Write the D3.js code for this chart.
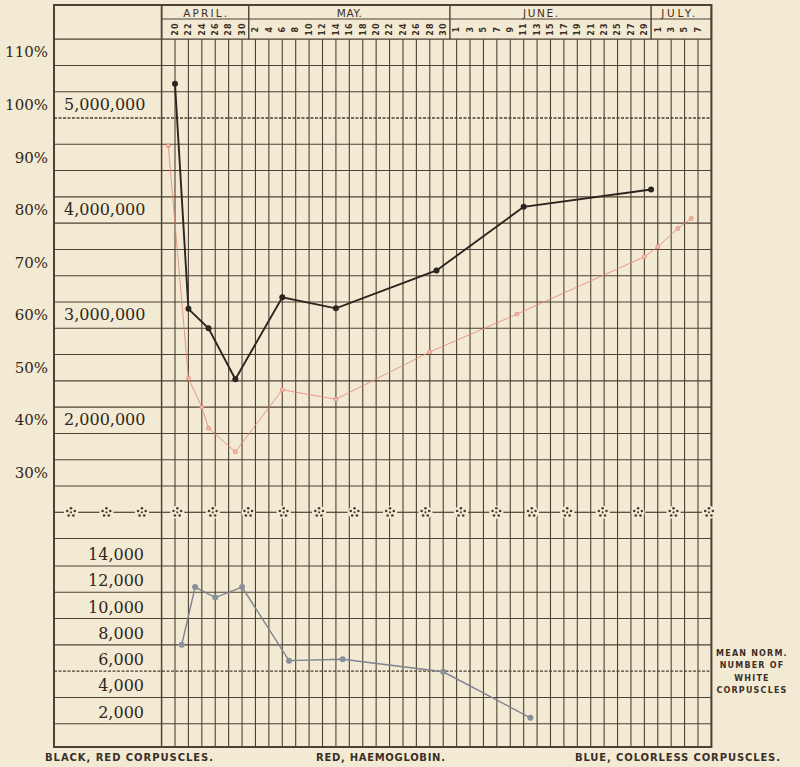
<!DOCTYPE html>
<html>
<head>
<meta charset="utf-8">
<script src="https://cdn.jsdelivr.net/npm/d3@7"></script>
<style>
  body { margin: 0; background: #f3ead3; }
  svg { display: block; }
</style>
</head>
<body>
<svg></svg>
<script>
const year = 1893;

// header
const months = ["APRIL.", "MAY.", "JUNE.", "JULY."];
const monthNums = [3, 4, 5, 6];
const monthDays = [
  [20, 22, 24, 26, 28, 30],
  [2, 4, 6, 8, 10, 12, 14, 16, 18, 20, 22, 24, 26, 28, 30],
  [1, 3, 5, 7, 9, 11, 13, 15, 17, 19, 21, 23, 25, 27, 29],
  [1, 3, 5, 7]
];

// left axis labels
const pctTicks = [110, 100, 90, 80, 70, 60, 50, 40, 30];
const countTicks = [5000000, 4000000, 3000000, 2000000];
const whiteTicks = [14000, 12000, 10000, 8000, 6000, 4000, 2000];

// black: red corpuscles (count)
const redCorpDates = ["04-20", "04-22", "04-25", "04-29", "05-06", "05-14", "05-29", "06-11", "06-30"];
const redCorpValues = [5325000, 3185000, 3000000, 2515000, 3295000, 3190000, 3550000, 4155000, 4320000];

// red: haemoglobin (%)
const haemoDates = ["04-19", "04-22", "04-24", "04-25", "04-29", "05-06", "05-14", "05-28", "06-10", "06-29", "07-01", "07-04", "07-06"];
const haemoValues = [94.7, 50.5, 45, 41, 36.5, 48.3, 46.5, 55.5, 62.7, 73.6, 75.5, 79, 80.9];

// blue: colorless (white) corpuscles
const whiteDates = ["04-21", "04-23", "04-26", "04-30", "05-07", "05-15", "05-30", "06-12"];
const whiteValues = [8000, 12400, 11600, 12400, 6800, 6900, 5950, 2450];

const footLabels = ["BLACK, RED CORPUSCLES.", "RED, HAEMOGLOBIN.", "BLUE, COLORLESS CORPUSCLES."];
const normLabel = ["MEAN NORM.", "NUMBER OF", "WHITE", "CORPUSCLES"];

const W = 800, H = 767;
const ink = "#4e4034";
const paper = "#f3ead3";
const textInk = "#3b2f26";

const parse = s => new Date(Date.UTC(year, +s.slice(0, 2) - 1, +s.slice(3)));
const day = (m, d) => new Date(Date.UTC(year, m, d));

const svg = d3.select("svg").attr("width", W).attr("height", H);
svg.append("rect").attr("width", W).attr("height", H).attr("fill", paper);

const x = d3.scaleUtc()
  .domain([day(3, 20), day(6, 7)])
  .range([175, 698]);

const yPct = d3.scaleLinear().domain([30, 100]).range([486, 118]);
const yCount = d3.scaleLinear().domain([2000000, 5000000]).range([yPct(40), yPct(100)]);
const yWhite = d3.scaleLinear().domain([0, 14000]).range([750, 566]);

const frameL = 54, labelCol = x(day(3, 18)), frameR = x(day(6, 9));
const frameT = 5, monthRow = 19, gridTop = yPct(115), frameB = 747;

const grid = svg.append("g").attr("stroke", ink).attr("fill", "none");

// horizontal grid
const hLines = d3.range(110, 25, -5).filter(v => v !== 100).map(v => yPct(v))
  .concat([yPct(20)])
  .concat(whiteTicks.filter(v => v !== 6000).map(v => yWhite(v)));
grid.selectAll("line.h").data(hLines).join("line")
  .attr("x1", frameL).attr("x2", frameR)
  .attr("y1", d => d).attr("y2", d => d)
  .attr("stroke-width", 1.1);

// dotted norm lines
grid.selectAll("line.norm").data([yPct(100), yWhite(6000)]).join("line")
  .attr("x1", frameL).attr("x2", frameR)
  .attr("y1", d => d).attr("y2", d => d)
  .attr("stroke-width", 1.3)
  .attr("stroke-dasharray", "3,1.5");

// vertical day lines
const allDays = monthDays.flatMap((ds, i) => ds.map(d => ({ m: monthNums[i], d: d })));
grid.selectAll("line.v").data(allDays).join("line")
  .attr("x1", d => x(day(d.m, d.d))).attr("x2", d => x(day(d.m, d.d)))
  .attr("y1", gridTop).attr("y2", frameB)
  .attr("stroke-width", 1.1);

// header boxes
const bounds = [labelCol];
for (let i = 0; i < months.length - 1; i++) {
  const a = x(day(monthNums[i], monthDays[i][monthDays[i].length - 1]));
  const b = x(day(monthNums[i + 1], monthDays[i + 1][0]));
  bounds.push((a + b) / 2);
}
bounds.push(frameR);
grid.selectAll("line.mb").data(bounds).join("line")
  .attr("x1", d => d).attr("x2", d => d)
  .attr("y1", frameT).attr("y2", gridTop)
  .attr("stroke-width", 1.4);
grid.append("line").attr("x1", labelCol).attr("x2", frameR)
  .attr("y1", monthRow).attr("y2", monthRow).attr("stroke-width", 1.2);
grid.append("line").attr("x1", frameL).attr("x2", frameR)
  .attr("y1", gridTop).attr("y2", gridTop).attr("stroke-width", 1.4);
grid.append("line").attr("x1", labelCol).attr("x2", labelCol)
  .attr("y1", frameT).attr("y2", frameB).attr("stroke-width", 1.5);

// outer frame
grid.append("rect")
  .attr("x", frameL).attr("y", frameT)
  .attr("width", frameR - frameL).attr("height", frameB - frameT)
  .attr("stroke-width", 2);

// month labels
const monthW = [44, 25, 35, 34];
const monthShift = [0, 0, -10, -3];
svg.selectAll("text.month").data(months).join("text")
  .attr("x", (d, i) => (bounds[i] + bounds[i + 1]) / 2 + monthShift[i] - monthW[i] / 2)
  .attr("y", 17)
  .attr("textLength", (d, i) => monthW[i])
  .attr("lengthAdjust", "spacing")
  .attr("font-family", "DejaVu Sans, sans-serif")
  .attr("font-size", 10.5)
  .attr("fill", textInk)
  .text(d => d);

// day labels
svg.selectAll("text.day").data(allDays).join("text")
  .attr("transform", d => `translate(${x(day(d.m, d.d)) + 2.8},${(monthRow + gridTop) / 2}) rotate(-90)`)
  .attr("text-anchor", "middle")
  .attr("font-family", "DejaVu Sans, sans-serif")
  .attr("font-size", 8)
  .attr("font-weight", "bold")
  .attr("letter-spacing", 1.2)
  .attr("fill", textInk)
  .text(d => d.d);

// left labels
const serif = "DejaVu Serif, serif";
svg.selectAll("text.pct").data(pctTicks).join("text")
  .attr("x", 48).attr("y", d => yPct(d) - 8)
  .attr("text-anchor", "end")
  .attr("font-family", serif).attr("font-size", 15)
  .attr("fill", "#2f2620")
  .text(d => d + "%");

svg.selectAll("text.count").data(countTicks).join("text")
  .attr("x", 64).attr("y", d => yCount(d) - 8)
  .attr("font-family", serif).attr("font-size", 16)
  .attr("fill", "#2f2620")
  .text(d => d3.format(",")(d));

svg.selectAll("text.white").data(whiteTicks).join("text")
  .attr("x", 144).attr("y", d => yWhite(d) - 6)
  .attr("text-anchor", "end")
  .attr("font-family", serif).attr("font-size", 16)
  .attr("fill", "#2f2620")
  .text(d => d3.format(",")(d));

// star separator
const starY = yPct(25);
const starX = d3.range(19).map(i => 71 + i * (709 - 71) / 18);
const sep = svg.append("g").attr("stroke", ink).attr("stroke-width", 1.2);
sep.append("line").attr("x1", frameL).attr("x2", starX[0] - 7).attr("y1", starY).attr("y2", starY);
sep.selectAll("line.seg").data(starX.slice(1)).join("line")
  .attr("x1", (d, i) => starX[i] + 7).attr("x2", d => d - 7)
  .attr("y1", starY).attr("y2", starY);
const stars = svg.selectAll("g.star").data(starX).join("g")
  .attr("transform", d => `translate(${d},${starY})`);
stars.append("circle").attr("r", 6.5).attr("fill", paper);
stars.selectAll("circle.p").data(d3.range(5)).join("circle")
  .attr("cx", k => 4 * Math.sin(k * 2 * Math.PI / 5))
  .attr("cy", k => -4 * Math.cos(k * 2 * Math.PI / 5))
  .attr("r", 1.3).attr("fill", "#4a3b2f");
stars.append("circle").attr("r", 1.1).attr("fill", "#4a3b2f");

// series
const redPts = haemoDates.map((d, i) => [x(parse(d)), yPct(haemoValues[i])]);
const blackPts = redCorpDates.map((d, i) => [x(parse(d)), yCount(redCorpValues[i])]);
const bluePts = whiteDates.map((d, i) => [x(parse(d)), yWhite(whiteValues[i])]);

const line = d3.line();

svg.append("path").attr("d", line(redPts))
  .attr("fill", "none").attr("stroke", "#e38a78").attr("stroke-width", 1)
  .attr("stroke-opacity", 0.85);
svg.selectAll("circle.red").data(redPts).join("circle")
  .attr("cx", d => d[0]).attr("cy", d => d[1]).attr("r", 2)
  .attr("fill", "#f2b8aa").attr("stroke", "#e38a78").attr("stroke-width", 0.8);

svg.append("path").attr("d", line(blackPts))
  .attr("fill", "none").attr("stroke", "#2b241f").attr("stroke-width", 1.9);
svg.selectAll("circle.black").data(blackPts).join("circle")
  .attr("cx", d => d[0]).attr("cy", d => d[1]).attr("r", 3)
  .attr("fill", "#2b241f");

svg.append("path").attr("d", line(bluePts))
  .attr("fill", "none").attr("stroke", "#7d838f").attr("stroke-width", 1.4);
svg.selectAll("circle.blue").data(bluePts).join("circle")
  .attr("cx", d => d[0]).attr("cy", d => d[1]).attr("r", 3)
  .attr("fill", "#8a909b");

// footer
const sans = "DejaVu Sans, sans-serif";
const footX = [45, 316, 575];
const footW = [168, 129, 205];
svg.selectAll("text.foot").data(footLabels).join("text")
  .attr("x", (d, i) => footX[i])
  .attr("y", 761)
  .attr("textLength", (d, i) => footW[i])
  .attr("lengthAdjust", "spacing")
  .attr("font-family", sans).attr("font-weight", "bold").attr("font-size", 10)
  .attr("fill", textInk)
  .text(d => d);

svg.selectAll("text.norm").data(normLabel).join("text")
  .attr("x", 752).attr("y", (d, i) => 655.5 + i * 12.6)
  .attr("text-anchor", "middle")
  .attr("font-family", sans).attr("font-weight", "bold").attr("font-size", 8)
  .attr("letter-spacing", 1.2)
  .attr("fill", textInk)
  .text(d => d);
</script>
</body>
</html>
